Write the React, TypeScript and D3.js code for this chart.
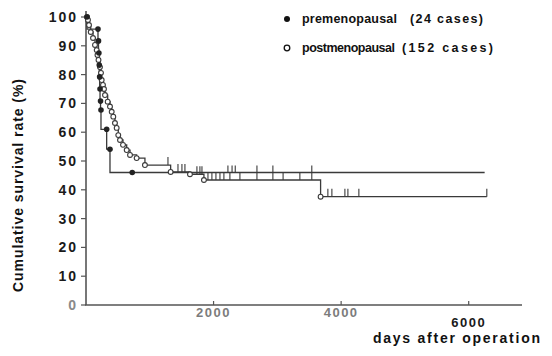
import * as d3 from "d3";

// premenopausal group (filled dots)
const preDays = [16, 188, 196, 202, 208, 214, 220, 228, 235, 324, 376, 725];
const preSurv = [100, 95.8, 91.7, 87.5, 83.3, 79.2, 75.0, 70.8, 67.7, 61.0, 54.1, 46.0];
const preEnd = 6250;
const preCensor = [2225, 2290, 2340, 2680, 2930, 3540];

// postmenopausal group (open circles)
const postDays = [16, 31, 47, 74, 110, 141, 168, 180, 196, 219, 235, 246, 266, 282, 298, 340, 376, 403, 428, 454, 481, 506, 533, 580, 638, 690, 794, 924, 1327, 1630, 1849, 3678];
const postSurv = [100, 99, 97.2, 94.8, 92.7, 90.3, 88.5, 86.8, 85.1, 82.6, 80.6, 78.1, 76.4, 75.0, 72.9, 70.6, 68.9, 67.1, 65.4, 63.2, 61.5, 59.0, 57.3, 55.6, 53.8, 52.1, 51.0, 48.6, 46.2, 45.4, 43.4, 37.6];
const postEnd = 6284;
const postCensor = [1285, 1442, 1504, 1551, 1739, 1786, 1818, 1912, 1974, 2037, 2100, 2162, 2256, 2413, 2680, 2930, 3090, 3353, 3540, 3792, 3855, 4059, 4106, 4278, 6284];

const yTicks = [0, 10, 20, 30, 40, 50, 60, 70, 80, 90, 100];
const xTicks = [2000, 4000, 6000];
const legendNames = ["premenopausal", "postmenopausal"];
const legendCounts = ["(24 cases)", "(152 cases)"];

const W = 552;
const H = 356;
const ink = "#3a3a3a";
const font = "'Liberation Sans', Arial, sans-serif";

export default function App() {
  const x = d3.scaleLinear().domain([0, 6000]).range([86, 468.7]);
  const y = d3.scaleLinear().domain([0, 100]).range([305, 17]);

  const prePts: [number, number][] = preDays.map((d, i) => [d, preSurv[i]]);
  const postPts: [number, number][] = postDays.map((d, i) => [d, postSurv[i]]);

  const preLine = d3
    .line<[number, number]>()
    .x((d) => x(d[0]))
    .y((d) => y(d[1]))
    .curve(d3.curveStepBefore)([...prePts, [preEnd, preSurv[preSurv.length - 1]]]);

  const postLine = d3
    .line<[number, number]>()
    .x((d) => x(d[0]))
    .y((d) => y(d[1]))
    .curve(d3.curveStepAfter)([...postPts, [postEnd, postSurv[postSurv.length - 1]]]);

  const preAt = (t: number) => {
    let s = preSurv[0];
    preDays.forEach((d, i) => {
      if (d <= t) s = preSurv[i];
    });
    return s;
  };
  const postAt = (t: number) => {
    let s = postSurv[0];
    postDays.forEach((d, i) => {
      if (d <= t) s = postSurv[i];
    });
    return s;
  };

  return (
    <svg
      width={W}
      height={H}
      style={{ position: "absolute", left: 0, top: 0, background: "#fff" }}
      fontFamily={font}
    >
      {/* axes */}
      <line x1={86} x2={86} y1={y(0)} y2={11} stroke="#555" strokeWidth={1.6} />
      <line x1={85} x2={522} y1={y(0)} y2={y(0)} stroke="#555" strokeWidth={1.6} />

      {yTicks.map((t) => (
        <g key={t}>
          <line x1={81} x2={86} y1={y(t)} y2={y(t)} stroke="#555" strokeWidth={1.2} />
          <text
            x={78}
            y={y(t) + 5}
            textAnchor="end"
            fontSize={14}
            fontWeight="bold"
            letterSpacing={2}
            fill={t === 0 ? "#8a8a8a" : "#1a1a1a"}
          >
            {t}
          </text>
        </g>
      ))}

      {xTicks.map((t) => (
        <g key={t}>
          <line x1={x(t)} x2={x(t)} y1={y(0)} y2={y(0) - 4} stroke="#555" strokeWidth={1.2} />
          <text
            x={x(t)}
            y={t === 6000 ? 327 : 317}
            textAnchor="middle"
            fontSize={13}
            fontWeight="bold"
            letterSpacing={1.5}
            fill={t === 6000 ? "#1a1a1a" : "#7c7c7c"}
          >
            {t}
          </text>
        </g>
      ))}

      <text x={373} y={343} fontSize={14} fontWeight="bold" textLength={167} lengthAdjust="spacing" fill="#111">
        days after operation
      </text>
      <text
        transform="translate(23,292) rotate(-90)"
        fontSize={14}
        fontWeight="bold"
        textLength={213}
        lengthAdjust="spacing"
        fill="#111"
      >
        Cumulative survival rate (%)
      </text>

      {/* legend */}
      <circle cx={287} cy={19} r={3} fill="#111" />
      <text x={302} y={23} fontSize={12.5} fontWeight="bold" fill="#111" textLength={95} lengthAdjust="spacing">
        {legendNames[0]}
      </text>
      <text x={410} y={23} fontSize={12.5} fontWeight="bold" fill="#111" textLength={73} lengthAdjust="spacing">
        {legendCounts[0]}
      </text>
      <circle cx={287} cy={48} r={2.8} fill="#fff" stroke="#111" strokeWidth={1.3} />
      <text x={302} y={52} fontSize={12.5} fontWeight="bold" fill="#111" textLength={93} lengthAdjust="spacing">
        {legendNames[1]}
      </text>
      <text x={402} y={52} fontSize={12.5} fontWeight="bold" fill="#111" textLength={91} lengthAdjust="spacing">
        {legendCounts[1]}
      </text>

      {/* curves */}
      <path d={postLine ?? ""} fill="none" stroke={ink} strokeWidth={1.3} />
      <path d={preLine ?? ""} fill="none" stroke={ink} strokeWidth={1.3} />

      {postCensor.map((t, i) => (
        <line key={"pc" + i} x1={x(t)} x2={x(t)} y1={y(postAt(t))} y2={y(postAt(t)) - 8} stroke={ink} strokeWidth={1.1} />
      ))}
      {preCensor.map((t, i) => (
        <line key={"rc" + i} x1={x(t)} x2={x(t)} y1={y(preAt(t))} y2={y(preAt(t)) - 7} stroke={ink} strokeWidth={1.1} />
      ))}

      {postPts.map((p, i) => (
        <circle key={"po" + i} cx={x(p[0])} cy={y(p[1])} r={2.4} fill="#fff" stroke={ink} strokeWidth={1.1} />
      ))}
      {prePts.map((p, i) => (
        <circle key={"pr" + i} cx={x(p[0])} cy={y(p[1])} r={2.8} fill="#222" />
      ))}
    </svg>
  );
}
